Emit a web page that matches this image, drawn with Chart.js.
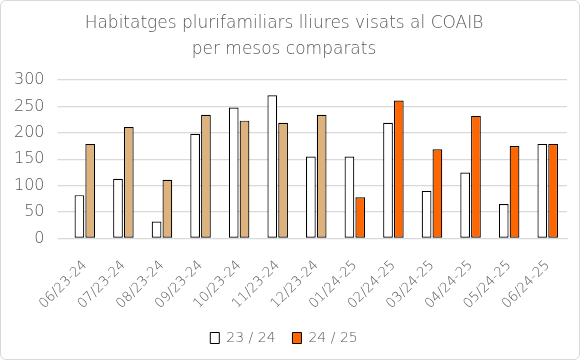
<!DOCTYPE html>
<html>
<head>
<meta charset="utf-8">
<script src="https://cdn.jsdelivr.net/npm/chart.js@4"></script>
<style>
  html, body { margin: 0; padding: 0; background: #fff; }
  .frame {
    width: 580px; height: 360px; box-sizing: border-box;
    border: 1px solid #d9d9d9; border-radius: 6px; position: relative;
  }
  canvas { display: block; }
</style>
</head>
<body>
<div class="frame"><canvas id="myChart" width="578" height="358"></canvas></div>
<script>
// months, compared year by year
const months = ['06/23-24', '07/23-24', '08/23-24', '09/23-24', '10/23-24', '11/23-24', '12/23-24',
                '01/24-25', '02/24-25', '03/24-25', '04/24-25', '05/24-25', '06/24-25'];
const serie2324 = [82, 113, 32, 198, 248, 271, 155, 155, 219, 90, 125, 65, 179];
const serie2425 = [179, 211, 111, 234, 223, 219, 234, 78, 261, 169, 232, 175, 179];
const yTicks = [0, 50, 100, 150, 200, 250, 300];

const tan = '#deb27c';
const orange = '#ff6600';
const grey = '#595959';
const fontFam = '"DejaVu Sans"';

// the first 7 months of 24/25 are drawn in tan, the rest in orange
var colors2425 = months.map((m, i) => i < 7 ? tan : orange);

const chartData = {
    labels: months,
    datasets: [{
        label: '23 / 24',
        data: serie2324,
        backgroundColor: '#ffffff',
        borderColor: '#000000',
        borderWidth: 1.2,
        borderSkipped: false
    }, {
        label: '24 / 25',
        data: serie2425,
        backgroundColor: colors2425,
        borderColor: '#000000',
        borderWidth: 1.2,
        borderSkipped: false
    }]
};

const config = {
    type: 'bar',
    data: chartData,
    options: {
        responsive: false,
        animation: false,
        layout: { padding: { left: 0, right: 12, top: 4, bottom: 4 } },
        datasets: {
            bar: { categoryPercentage: 0.56, barPercentage: 0.9 }
        },
        scales: {
            x: {
                grid: { display: false },
                border: { color: '#d9d9d9' },
                ticks: {
                    color: grey,
                    font: { family: fontFam, size: 13.5, weight: 200 },
                    maxRotation: 45, minRotation: 45,
                    padding: 11
                }
            },
            y: {
                min: 0, max: 300,
                afterBuildTicks: (axis) => { axis.ticks = yTicks.map(v => ({ value: v })); },
                grid: { color: '#d9d9d9', lineWidth: 1.3 },
                border: { display: false },
                ticks: {
                    color: grey,
                    font: { family: fontFam, size: 16, weight: 200 },
                    padding: 13
                }
            }
        },
        plugins: {
            title: {
                display: true,
                text: ['Habitatges plurifamiliars lliures visats al COAIB', 'per mesos comparats'],
                color: grey,
                font: { family: fontFam, size: 17, weight: 200, lineHeight: 1.5 },
                padding: { top: 6, bottom: 18 }
            },
            legend: {
                position: 'bottom',
                labels: {
                    color: grey,
                    font: { family: fontFam, size: 14, weight: 200 },
                    boxWidth: 9,
                    boxHeight: 11,
                    padding: 8,
                    generateLabels: (chart) => chart.data.datasets.map((ds, i) => ({
                        text: i === 0 ? ds.label + '  ' : ds.label,
                        fillStyle: i === 0 ? '#ffffff' : orange,
                        strokeStyle: '#000000',
                        lineWidth: 1,
                        fontColor: grey,
                        datasetIndex: i
                    }))
                }
            },
            tooltip: { enabled: false }
        }
    }
};

new Chart(document.getElementById('myChart'), config);
</script>
</body>
</html>
